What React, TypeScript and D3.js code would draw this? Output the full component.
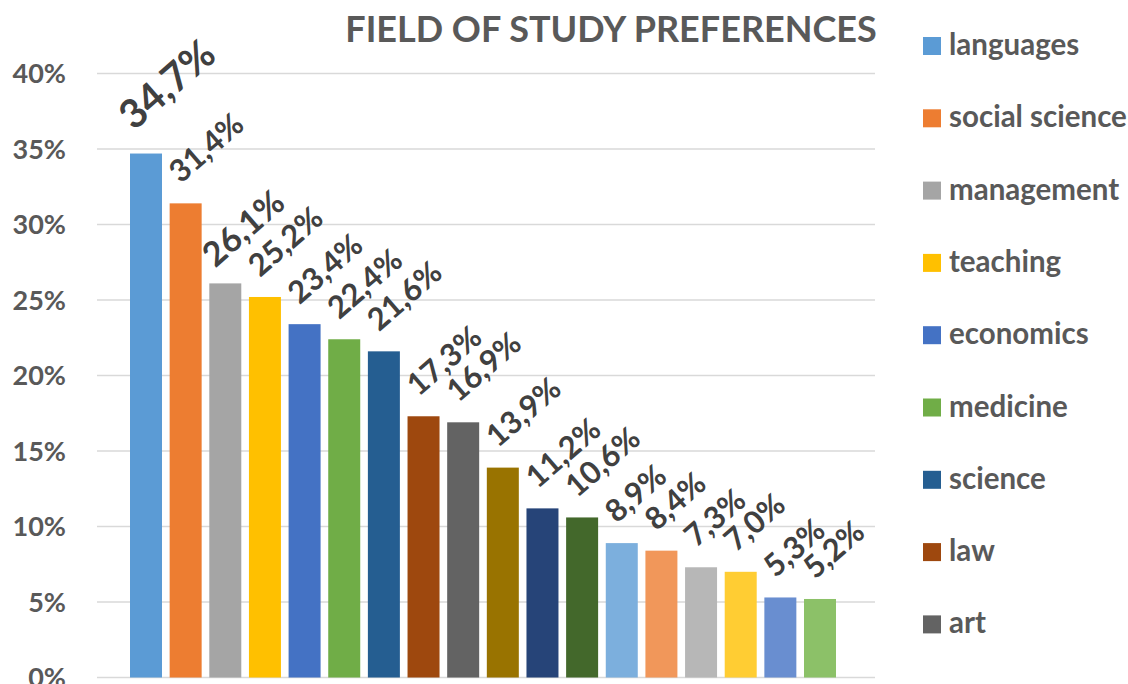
import React, { useEffect, useRef } from 'react';
import * as d3 from 'd3';

// Data (only the first nine categories are named in the legend)
const categories = [
  'languages', 'social science', 'management', 'teaching', 'economics',
  'medicine', 'science', 'law', 'art', 'category 10', 'category 11',
  'category 12', 'category 13', 'category 14', 'category 15', 'category 16',
  'category 17', 'category 18'
];
const values = [34.7, 31.4, 26.1, 25.2, 23.4, 22.4, 21.6, 17.3, 16.9, 13.9, 11.2, 10.6, 8.9, 8.4, 7.3, 7.0, 5.3, 5.2];
const yTicks = [0, 5, 10, 15, 20, 25, 30, 35, 40];
const legendShown = 9;

const colors = [
  '#5B9BD5', '#ED7D31', '#A5A5A5', '#FFC000', '#4472C4', '#70AD47', '#255E91', '#9E480E', '#636363',
  '#997300', '#264478', '#43682B', '#7CAFDD', '#F1975A', '#B7B7B7', '#FFCD33', '#698ED0', '#8CC168'
];

const FONT = 'Lato, "Open Sans", sans-serif';

const App = () => {
  const chartRef = useRef<HTMLDivElement>(null);

  useEffect(() => {
    const width = 1128;
    const height = 684;

    d3.select(chartRef.current).select('svg').remove();

    const svg = d3.select(chartRef.current)
      .append('svg')
      .attr('width', width)
      .attr('height', height)
      .style('position', 'absolute')
      .style('left', 0)
      .style('top', 0)
      .style('background', '#fff')
      .style('font-family', FONT);

    // scales
    const y = d3.scaleLinear().domain([0, 40]).range([677.5, 73.5]);
    const x = d3.scaleBand<string>()
      .domain(categories)
      .range([130, 836])
      .paddingInner(0.193)
      .paddingOuter(0);

    // gridlines
    svg.append('g')
      .selectAll('line')
      .data(yTicks)
      .enter()
      .append('line')
      .attr('x1', 97)
      .attr('x2', 875)
      .attr('y1', d => y(d))
      .attr('y2', d => y(d))
      .attr('stroke', '#d9d9d9')
      .attr('stroke-width', 1.6);

    // y axis labels
    svg.append('g')
      .selectAll('text')
      .data(yTicks)
      .enter()
      .append('text')
      .attr('x', 66)
      .attr('y', d => y(d))
      .attr('dy', '0.36em')
      .attr('text-anchor', 'end')
      .attr('fill', '#595959')
      .attr('font-weight', 700)
      .attr('font-size', '27px')
      .text(d => `${d}%`);

    // bars
    svg.append('g')
      .selectAll('rect')
      .data(values)
      .enter()
      .append('rect')
      .attr('x', (d, i) => x(categories[i]) as number)
      .attr('y', d => y(d))
      .attr('width', x.bandwidth())
      .attr('height', d => y(0) - y(d))
      .attr('fill', (d, i) => colors[i]);

    // data labels, rotated
    const labelSize = (i: number) => (i === 0 ? 40 : i === 2 ? 34 : 31);
    const labelOffset = (i: number) => (i === 0 ? [-12, -22] : i === 2 ? [-10, -15] : [-5, -19]);
    svg.append('g')
      .selectAll('text')
      .data(values)
      .enter()
      .append('text')
      .attr('transform', (d, i) => {
        const cx = (x(categories[i]) as number) + x.bandwidth() / 2 + labelOffset(i)[0];
        const cy = y(d) + labelOffset(i)[1];
        return `translate(${cx},${cy}) rotate(-41)`;
      })
      .attr('fill', '#404040')
      .attr('font-weight', 700)
      .attr('font-size', (d, i) => `${labelSize(i)}px`)
      .text(d => `${d.toFixed(1).replace('.', ',')}%`);

    // title
    svg.append('text')
      .attr('x', 611)
      .attr('y', 42)
      .attr('text-anchor', 'middle')
      .attr('fill', '#595959')
      .attr('font-weight', 700)
      .attr('font-size', '36px')
      .text('FIELD OF STUDY PREFERENCES');

    // legend
    const legend = svg.append('g')
      .selectAll('g')
      .data(categories.slice(0, legendShown))
      .enter()
      .append('g')
      .attr('transform', (d, i) => `translate(923,${55 + i * 72.3})`);

    legend.append('rect')
      .attr('x', 0)
      .attr('y', -18)
      .attr('width', 18)
      .attr('height', 18)
      .attr('fill', (d, i) => colors[i]);

    legend.append('text')
      .attr('x', 26)
      .attr('y', 0)
      .attr('fill', '#595959')
      .attr('font-weight', 700)
      .attr('font-size', '29.5px')
      .text(d => d);
  }, []);

  return (
    <div ref={chartRef}></div>
  );
};

export default App;
